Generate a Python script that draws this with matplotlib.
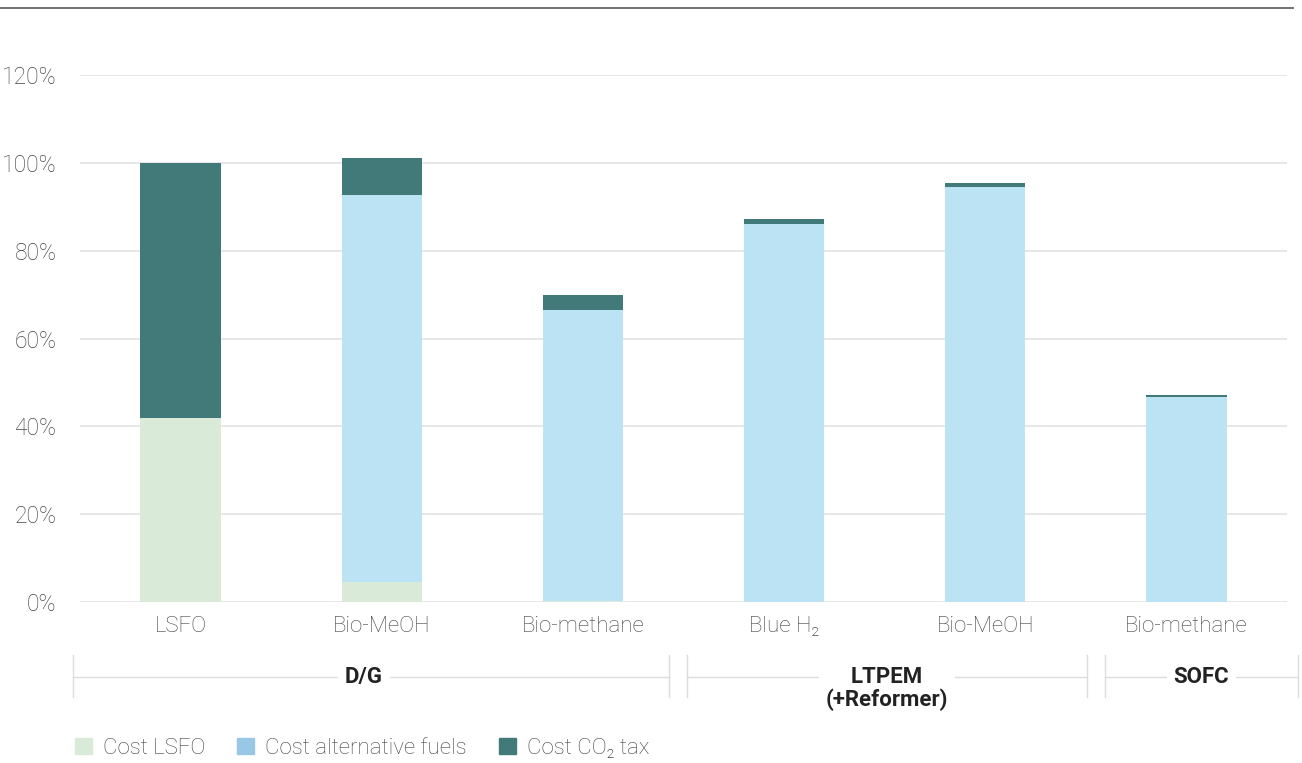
import numpy as np
import matplotlib.pyplot as plt
from matplotlib.patches import Patch
from matplotlib.lines import Line2D

plt.rcParams['font.family'] = ['Roboto', 'DejaVu Sans']

# data (% of LSFO reference cost)
categories = ['LSFO', 'Bio-MeOH', 'Bio-methane', 'Blue H₂', 'Bio-MeOH', 'Bio-methane']
cost_lsfo = [42.0, 4.5, 0.3, 0.0, 0.0, 0.0]
cost_alt = [0.0, 88.2, 66.1, 86.1, 94.5, 46.6]
cost_co2 = [58.0, 8.4, 3.4, 1.1, 1.0, 0.5]
groups = ['D/G', 'LTPEM\n(+Reformer)', 'SOFC']
# bracket extents in figure pixels
group_px = [(73, 669), (687, 1087), (1105, 1298)]
yticks = [0, 20, 40, 60, 80, 100, 120]

c_lsfo = '#d9ebd8'
c_alt = '#bbe3f4'
c_alt_leg = '#99c8e6'
c_co2 = '#417a78'
txt = '#444444'

W, H = 1302, 763
fig = plt.figure(figsize=(W/100, H/100), dpi=100)
ax = fig.add_axes([80/W, 1-602/H, (1287-80)/W, (602-75)/H])

x = np.arange(len(categories))
w = 0.4
lsfo = np.array(cost_lsfo)
alt = np.array(cost_alt)
co2 = np.array(cost_co2)
ax.bar(x, lsfo, w, color=c_lsfo, zorder=3)
ax.bar(x, alt, w, bottom=lsfo, color=c_alt, zorder=3)
ax.bar(x, co2, w, bottom=lsfo+alt, color=c_co2, zorder=3)

ax.set_xlim(-0.5, 5.5)
ax.set_ylim(0, 120)
ax.set_yticks(yticks)
ax.set_yticklabels([f'{v}%' for v in yticks])
ax.yaxis.grid(True, color='#e3e3e3', lw=1.2, zorder=0)
ax.set_xticks(x)
ax.set_xticklabels(categories)
ax.tick_params(axis='x', length=0, labelsize=16, labelcolor=txt, pad=10)
ax.tick_params(axis='y', length=0, labelsize=16.5, labelcolor=txt, pad=17)
for lab in ax.get_yticklabels() + ax.get_xticklabels():
    lab.set_fontweight('light')
for s in ax.spines.values():
    s.set_visible(False)

# top rule
fig.add_artist(Line2D([0, 1293/W], [1-8/H, 1-8/H], color='#666666', lw=1.3))

# group brackets below the x labels
y_mid = 1 - 677/H
y_lo, y_hi = 1 - 697/H, 1 - 655/H
for name, (p0, p1) in zip(groups, group_px):
    x0, x1 = p0/W, p1/W
    for xx in (x0, x1):
        fig.add_artist(Line2D([xx, xx], [y_lo, y_hi], color='#dcdcdc', lw=1))
    fig.add_artist(Line2D([x0, x1], [y_mid, y_mid], color='#dcdcdc', lw=1, zorder=1))
    xc = (x0 + x1) / 2
    if name == 'D/G':
        xc = 364/W
    multi = '\n' in name
    fig.text(xc, y_mid + (0.015 if multi else 0), name, ha='center',
             va='top' if multi else 'center',
             fontsize=16, fontweight='bold', color='#222222', linespacing=1.05,
             zorder=3, bbox=dict(facecolor='white', edgecolor='none', pad=5))

handles = [Patch(color=c_lsfo, label='Cost LSFO'),
           Patch(color=c_alt_leg, label='Cost alternative fuels'),
           Patch(color=c_co2, label='Cost CO₂ tax')]
leg = fig.legend(handles=handles, loc='center left', bbox_to_anchor=(75/W, 1-748/H),
                 ncol=3, frameon=False, fontsize=16, handlelength=0.75, handleheight=0.75,
                 handletextpad=0.5, columnspacing=1.45, borderpad=0, borderaxespad=0)
for t in leg.get_texts():
    t.set_color(txt)
    t.set_fontweight('light')

fig.savefig('out.png', dpi=100)
